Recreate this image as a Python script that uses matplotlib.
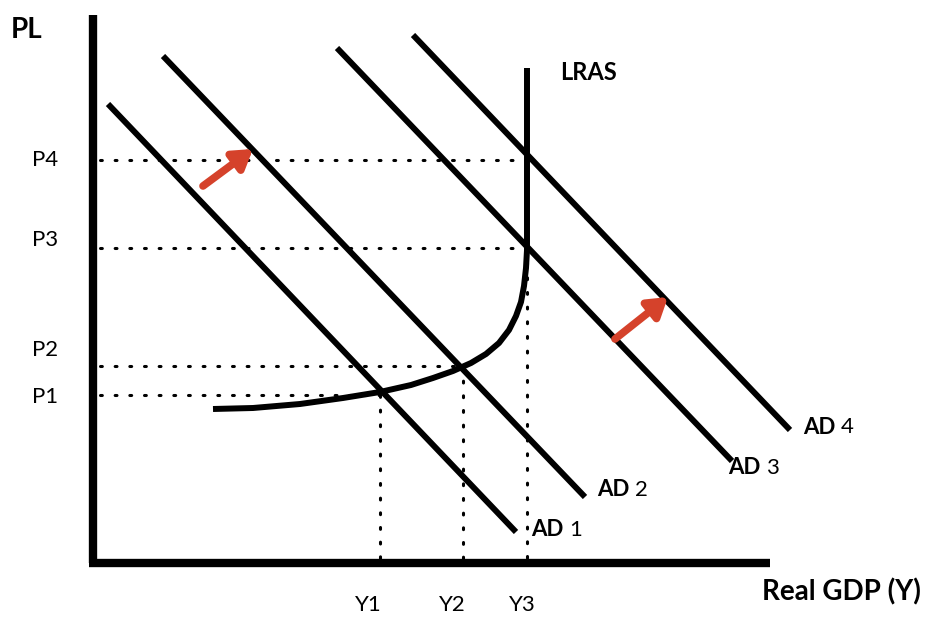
import matplotlib
matplotlib.use("Agg")
import numpy as np
from matplotlib import pyplot as plt

plt.rcParams['font.family'] = ['Lato', 'DejaVu Sans']

# Data (pixel-like units, origin at the axes corner, y upward)
ad_names = ["1", "2", "3", "4"]
ad_start_x = [15, 70, 244, 320]
ad_start_y = [459, 507, 515, 528]
ad_end_x = [423, 492, 639, 697]
ad_end_y = [31, 66, 102, 133]

lras_x = [434, 434, 434, 433, 431, 428, 423, 416, 406, 393, 378, 360, 340, 318, 287, 250, 207, 160, 120]
lras_y = [495, 400, 313, 295, 277, 261, 247, 233, 220, 209, 200, 192, 185, 178, 171, 165, 159, 155, 154]

price_names = ["P1", "P2", "P3", "P4"]
price_y = [168, 197, 315, 403]
output_names = ["Y1", "Y2", "Y3"]
output_x = [287, 370, 434]
price_x_end = [287, 370, 434, 434]

arrow_from = [(110, 377), (522, 224)]
arrow_to = [(160, 414), (575, 266)]

fig = plt.figure(figsize=(9.25, 6.18), dpi=100)
ax = fig.add_axes([0, 0, 1, 1])
ax.set_xlim(-93, 832)
ax.set_ylim(-55, 563)
ax.axis('off')

# axes
ax.plot([0, 0], [0, 548], color='black', lw=6, solid_capstyle='butt')
ax.plot([-4, 677], [0, 0], color='black', lw=6, solid_capstyle='butt')

# dotted guides
for py, xe in zip(price_y, price_x_end):
    ax.plot([7, xe], [py, py], color='black', lw=2.2, linestyle=(0, (0.6, 4.2)),
            dash_capstyle='round')
for ox, py in zip(output_x, [168, 197, 315]):
    ax.plot([ox, ox], [py, 3], color='black', lw=2.2, linestyle=(0, (0.6, 4.2)),
            dash_capstyle='round')

# AD curves
for name, x0, y0, x1, y1 in zip(ad_names, ad_start_x, ad_start_y, ad_end_x, ad_end_y):
    ax.plot([x0, x1], [y0, y1], color='black', lw=4.3, solid_capstyle='butt')

label_pos = {"1": (438, 33), "2": (504, 73), "3": (635, 95), "4": (710, 136)}
for name in ad_names:
    lx, ly = label_pos[name]
    ax.text(lx, ly, "AD", fontsize=16, fontweight='bold', va='center', ha='left')
    ax.text(lx + 38, ly, name, fontsize=16, va='center', ha='left')

# LRAS
ax.plot(lras_x, lras_y, color='black', lw=4.3, solid_capstyle='butt')
ax.text(467, 491, "LRAS", fontsize=17, fontweight='bold', va='center', ha='left')

# arrows
for (x0, y0), (x1, y1) in zip(arrow_from, arrow_to):
    ax.annotate("", xy=(x1, y1), xytext=(x0, y0),
                arrowprops=dict(arrowstyle='-|>,head_length=1.1,head_width=0.7',
                                color='#d5422b', lw=5.5, shrinkA=0, shrinkB=0))

# labels
label_y = {"P1": 166, "P2": 213, "P3": 323, "P4": 403}
for name in price_names:
    ax.text(-48, label_y[name], name, fontsize=16, va='center', ha='center')
for name, ox in zip(output_names, [275, 359, 429]):
    ax.text(ox, -42, name, fontsize=16, va='center', ha='center')

ax.text(-82, 533, "PL", fontsize=20, fontweight='bold', va='center', ha='left')
ax.text(828, -29, "Real GDP (Y)", fontsize=20, fontweight='bold', va='center', ha='right')

fig.savefig("out.png", dpi=100)
